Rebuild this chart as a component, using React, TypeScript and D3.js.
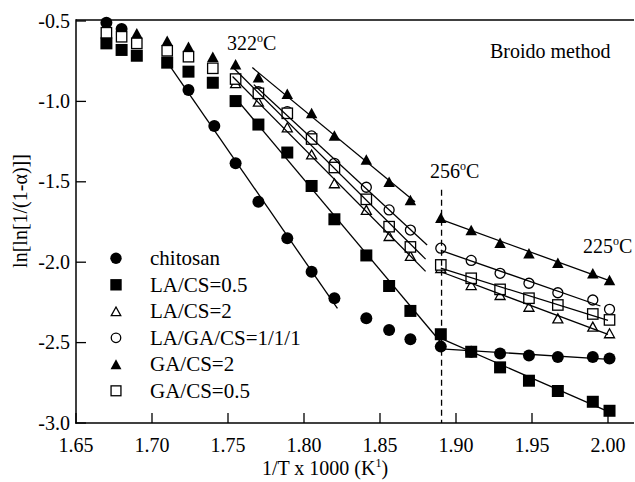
import React from "react";
import * as d3 from "d3";

const xTicks = [1.65, 1.7, 1.75, 1.8, 1.85, 1.9, 1.95, 2.0];
const yTicks = [-3.0, -2.5, -2.0, -1.5, -1.0, -0.5];

const chitosanX = [1.670, 1.680, 1.724, 1.741, 1.755, 1.770, 1.789, 1.805, 1.820, 1.841, 1.856, 1.870, 1.890, 1.910, 1.929, 1.948, 1.967, 1.990, 2.001];
const chitosanY = [-0.511, -0.550, -0.929, -1.153, -1.385, -1.624, -1.851, -2.059, -2.224, -2.349, -2.422, -2.479, -2.525, -2.557, -2.568, -2.580, -2.590, -2.590, -2.599];

const laCs05X = [1.670, 1.680, 1.690, 1.710, 1.724, 1.740, 1.755, 1.770, 1.789, 1.805, 1.820, 1.841, 1.856, 1.870, 1.890, 1.910, 1.929, 1.948, 1.967, 1.990, 2.001];
const laCs05Y = [-0.639, -0.680, -0.716, -0.759, -0.815, -0.884, -0.998, -1.144, -1.318, -1.526, -1.733, -1.958, -2.148, -2.303, -2.448, -2.557, -2.654, -2.737, -2.801, -2.868, -2.924];

const gaCs2X = [1.690, 1.710, 1.724, 1.740, 1.755, 1.770, 1.789, 1.805, 1.820, 1.841, 1.856, 1.870, 1.890, 1.910, 1.929, 1.948, 1.967, 1.990, 2.001];
const gaCs2Y = [-0.576, -0.623, -0.660, -0.722, -0.769, -0.850, -0.953, -1.072, -1.212, -1.361, -1.499, -1.613, -1.723, -1.800, -1.879, -1.945, -2.003, -2.069, -2.111];

const laCs2X = [1.755, 1.770, 1.789, 1.805, 1.820, 1.841, 1.856, 1.870, 1.890, 1.910, 1.929, 1.948, 1.967, 1.990, 2.001];
const laCs2Y = [-0.886, -1.002, -1.161, -1.330, -1.509, -1.675, -1.837, -1.961, -2.036, -2.142, -2.204, -2.277, -2.349, -2.401, -2.442];

const laGaCsX = [1.770, 1.789, 1.805, 1.820, 1.841, 1.856, 1.870, 1.890, 1.910, 1.929, 1.948, 1.967, 1.990, 2.001];
const laGaCsY = [-0.940, -1.064, -1.215, -1.385, -1.534, -1.675, -1.800, -1.913, -1.989, -2.069, -2.131, -2.190, -2.235, -2.293];

const gaCs05X = [1.670, 1.680, 1.690, 1.710, 1.724, 1.740, 1.755, 1.770, 1.789, 1.805, 1.820, 1.841, 1.856, 1.870, 1.890, 1.910, 1.929, 1.948, 1.967, 1.990, 2.001];
const gaCs05Y = [-0.573, -0.598, -0.639, -0.685, -0.722, -0.794, -0.861, -0.950, -1.074, -1.234, -1.411, -1.609, -1.779, -1.905, -2.017, -2.100, -2.169, -2.224, -2.266, -2.322, -2.359];

const seriesNames = ["chitosan", "LA/CS=0.5", "LA/CS=2", "LA/GA/CS=1/1/1", "GA/CS=2", "GA/CS=0.5"];

// linear fits: [seriesName, fitFrom, fitTo, drawFrom, drawTo]
const fitSegments: [string, number, number, number, number][] = [
  ["chitosan", 1.72, 1.821, 1.71, 1.822],
  ["chitosan", 1.889, 2.002, 1.89, 2.001],
  ["LA/CS=0.5", 1.754, 1.891, 1.755, 1.89],
  ["LA/CS=0.5", 1.889, 2.002, 1.89, 2.001],
  ["GA/CS=2", 1.769, 1.871, 1.766, 1.873],
  ["GA/CS=2", 1.889, 2.002, 1.89, 2.0],
  ["LA/GA/CS=1/1/1", 1.769, 1.871, 1.767, 1.881],
  ["LA/GA/CS=1/1/1", 1.889, 2.002, 1.89, 1.995],
  ["LA/CS=2", 1.754, 1.871, 1.753, 1.88],
  ["LA/CS=2", 1.889, 2.002, 1.89, 2.0],
  ["GA/CS=0.5", 1.754, 1.871, 1.753, 1.88],
  ["GA/CS=0.5", 1.889, 2.002, 1.89, 2.0],
];

const transitionX = 1.8905;
const transitionTop = -1.55;

const L = 76, R = 634, T = 21, B = 423;
const x = d3.scaleLinear().domain([1.65, 2.0]).range([L, 608]);
const y = d3.scaleLinear().domain([-3.0, -0.5]).range([B, T]);

const FONT = "'Liberation Serif', 'Times New Roman', serif";

type Kind = "fcircle" | "fsquare" | "otri" | "ocircle" | "ftri" | "osquare";

const series: { name: string; xs: number[]; ys: number[]; kind: Kind }[] = [
  { name: "chitosan", xs: chitosanX, ys: chitosanY, kind: "fcircle" },
  { name: "LA/CS=0.5", xs: laCs05X, ys: laCs05Y, kind: "fsquare" },
  { name: "GA/CS=2", xs: gaCs2X, ys: gaCs2Y, kind: "ftri" },
  { name: "LA/CS=2", xs: laCs2X, ys: laCs2Y, kind: "otri" },
  { name: "LA/GA/CS=1/1/1", xs: laGaCsX, ys: laGaCsY, kind: "ocircle" },
  { name: "GA/CS=0.5", xs: gaCs05X, ys: gaCs05Y, kind: "osquare" },
];

function Marker({ kind, cx, cy, legend }: { kind: Kind; cx: number; cy: number; legend?: boolean }) {
  const s = legend ? 0.95 : 1;
  switch (kind) {
    case "fcircle":
      return <circle cx={cx} cy={cy} r={6 * s} fill="#000" />;
    case "fsquare":
      return <rect x={cx - 6 * s} y={cy - 6 * s} width={12 * s} height={12 * s} fill="#000" />;
    case "ocircle":
      return <circle cx={cx} cy={cy} r={5 * s} fill="#fff" stroke="#000" strokeWidth={1.3} />;
    case "osquare":
      return <rect x={cx - 5.2 * s} y={cy - 5.2 * s} width={10.4 * s} height={10.4 * s} fill="#fff" stroke="#000" strokeWidth={1.3} />;
    case "ftri": {
      const h = 10.5 * s, w = 11.5 * s;
      return <path d={`M${cx},${cy - h / 2}L${cx + w / 2},${cy + h / 2}L${cx - w / 2},${cy + h / 2}Z`} fill="#000" />;
    }
    case "otri": {
      const h = 9 * s, w = 10 * s;
      return <path d={`M${cx},${cy - h / 2}L${cx + w / 2},${cy + h / 2}L${cx - w / 2},${cy + h / 2}Z`} fill="#fff" stroke="#000" strokeWidth={1.3} />;
    }
  }
  return null;
}

function fit(xs: number[], ys: number[], a: number, b: number) {
  const pts = xs.map((v, i) => [v, ys[i]] as [number, number]).filter(([v]) => v >= a && v <= b);
  const mx = d3.mean(pts, (p) => p[0])!;
  const my = d3.mean(pts, (p) => p[1])!;
  const sxy = d3.sum(pts, (p) => (p[0] - mx) * (p[1] - my));
  const sxx = d3.sum(pts, (p) => (p[0] - mx) ** 2);
  const m = sxy / sxx;
  return (v: number) => my + m * (v - mx);
}

const legendKinds: Kind[] = ["fcircle", "fsquare", "otri", "ocircle", "ftri", "osquare"];

export default function App() {
  const line = d3.line<[number, number]>().x((d) => x(d[0])).y((d) => y(d[1]));
  return (
    <svg width={635} height={482} style={{ position: "absolute", left: 0, top: 0, background: "#fff" }} fontFamily={FONT}>
      <rect width={635} height={482} fill="#fff" />
      {/* markers */}
      {series.map((s) =>
        s.xs.map((v, i) => <Marker key={s.name + i} kind={s.kind} cx={x(v)} cy={y(s.ys[i])} />)
      )}
      {/* fit lines */}
      {fitSegments.map(([name, a, b, d0, d1], i) => {
        const s = series.find((q) => q.name === name)!;
        const f = fit(s.xs, s.ys, a, b);
        return <path key={"f" + i} d={line([[d0, f(d0)], [d1, f(d1)]])!} stroke="#000" strokeWidth={1.3} fill="none" />;
      })}
      {/* transition dashed line */}
      <line x1={x(transitionX)} x2={x(transitionX)} y1={y(transitionTop)} y2={B} stroke="#000" strokeWidth={1.3} strokeDasharray="6,4" />
      {/* frame */}
      <line x1={L} x2={R} y1={T - 1} y2={T - 1} stroke="#000" strokeWidth={1.5} />
      <line x1={L} x2={L} y1={T - 1.7} y2={B + 0.7} stroke="#000" strokeWidth={1.5} />
      <line x1={L - 0.7} x2={R} y1={B} y2={B} stroke="#000" strokeWidth={1.5} />
      {/* x ticks */}
      {xTicks.map((t) => (
        <g key={"xt" + t}>
          <line x1={x(t)} x2={x(t)} y1={B} y2={B - 10} stroke="#000" strokeWidth={1.3} />
          <text x={x(t)} y={452} textAnchor="middle" fontSize={20}>{t.toFixed(2)}</text>
        </g>
      ))}
      {/* y ticks */}
      {yTicks.map((t) => (
        <g key={"yt" + t}>
          <line x1={L} x2={L + 10} y1={y(t)} y2={y(t)} stroke="#000" strokeWidth={1.3} />
          <text x={70} y={y(t) + 6.5} textAnchor="end" fontSize={20}>{t.toFixed(1)}</text>
        </g>
      ))}
      {/* axis titles */}
      <text x={325} y={475} textAnchor="middle" fontSize={20}>
        1/T x 1000 (K<tspan fontSize={12} dy={-8}>1</tspan><tspan dy={8}>)</tspan>
      </text>
      <text transform="translate(27,211) rotate(-90)" textAnchor="middle" fontSize={20}>ln[ln[1/(1-α)]]</text>
      {/* annotations */}
      <text x={490} y={58} fontSize={20}>Broido method</text>
      <text x={227} y={50} fontSize={20}>322<tspan fontSize={12} dy={-8}>o</tspan><tspan dy={8}>C</tspan></text>
      <text x={430} y={178} fontSize={20}>256<tspan fontSize={12} dy={-8}>o</tspan><tspan dy={8}>C</tspan></text>
      <text x={583} y={253} fontSize={20}>225<tspan fontSize={12} dy={-8}>o</tspan><tspan dy={8}>C</tspan></text>
      {/* legend */}
      {seriesNames.map((n, i) => {
        const cy = 258.3 + i * 26.5;
        return (
          <g key={"lg" + n}>
            <Marker kind={legendKinds[i]} cx={116} cy={cy} legend />
            <text x={150} y={cy + 7} fontSize={21}>{n}</text>
          </g>
        );
      })}
    </svg>
  );
}
